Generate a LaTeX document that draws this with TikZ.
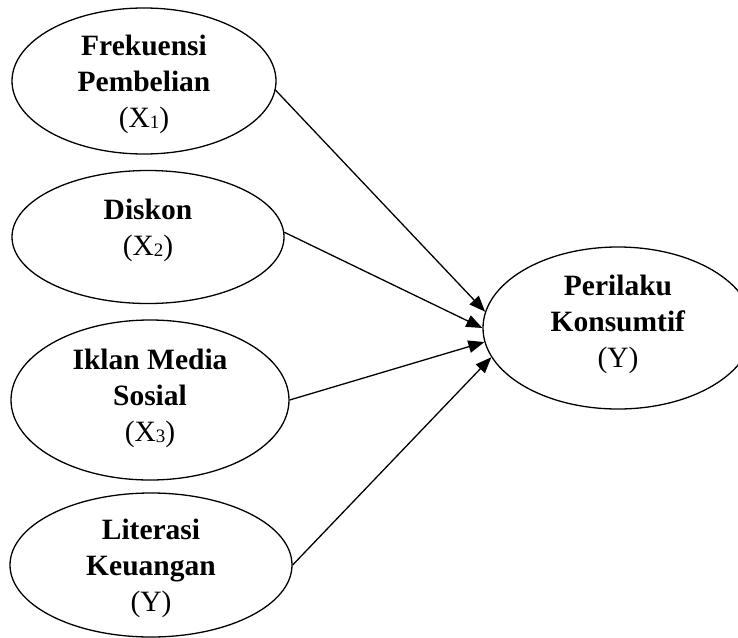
\documentclass[tikz,border=0pt]{standalone}
\usepackage{fontspec}
\setmainfont{Liberation Serif}
\usetikzlibrary{shapes.geometric,arrows.meta}
\newcommand\mysub[1]{\raisebox{-1.5pt}{\fontsize{19}{19}\selectfont #1}}
\begin{document}
\begin{tikzpicture}[x=1pt,y=-1pt,
  var/.style={ellipse,draw,line width=1.3pt,inner sep=0pt},
  txt/.style={font=\fontsize{29.5}{36}\selectfont,align=center,inner sep=0pt},
  arr/.style={line width=1.3pt,-{Triangle[length=16pt,width=12.5pt]}}]
\useasboundingbox (0,0) rectangle (738,637);
\node[var,minimum width=264pt,minimum height=146pt] (f) at (144,81) {};
\node[var,minimum width=272pt,minimum height=133pt] (d) at (148,237) {};
\node[var,minimum width=278pt,minimum height=160pt] (i) at (150,400) {};
\node[var,minimum width=282pt,minimum height=144pt] (l) at (151,565) {};
\node[var,minimum width=270pt,minimum height=162pt] (y) at (618,328) {};
\node[txt] (ft) at (144,84) {\textbf{Frekuensi}\\\textbf{Pembelian}\\(X\mysub{1})};
\node[txt] (dt) at (148,230) {\textbf{Diskon}\\(X\mysub{2})};
\node[txt] (it) at (150,398) {\textbf{Iklan Media}\\\textbf{Sosial}\\(X\mysub{3})};
\node[txt] (lt) at (151,568) {\textbf{Literasi}\\\textbf{Keuangan}\\(Y)};
\node[txt] (yt) at (618,324) {\textbf{Perilaku}\\\textbf{Konsumtif}\\(Y)};
\draw[arr] (f.-4) -- (y.173);
\draw[arr] (d.2) -- (y.180);
\draw[arr] (i.east) -- (y.186);
\draw[arr] (l.east) -- (y.193);
\end{tikzpicture}
\end{document}
